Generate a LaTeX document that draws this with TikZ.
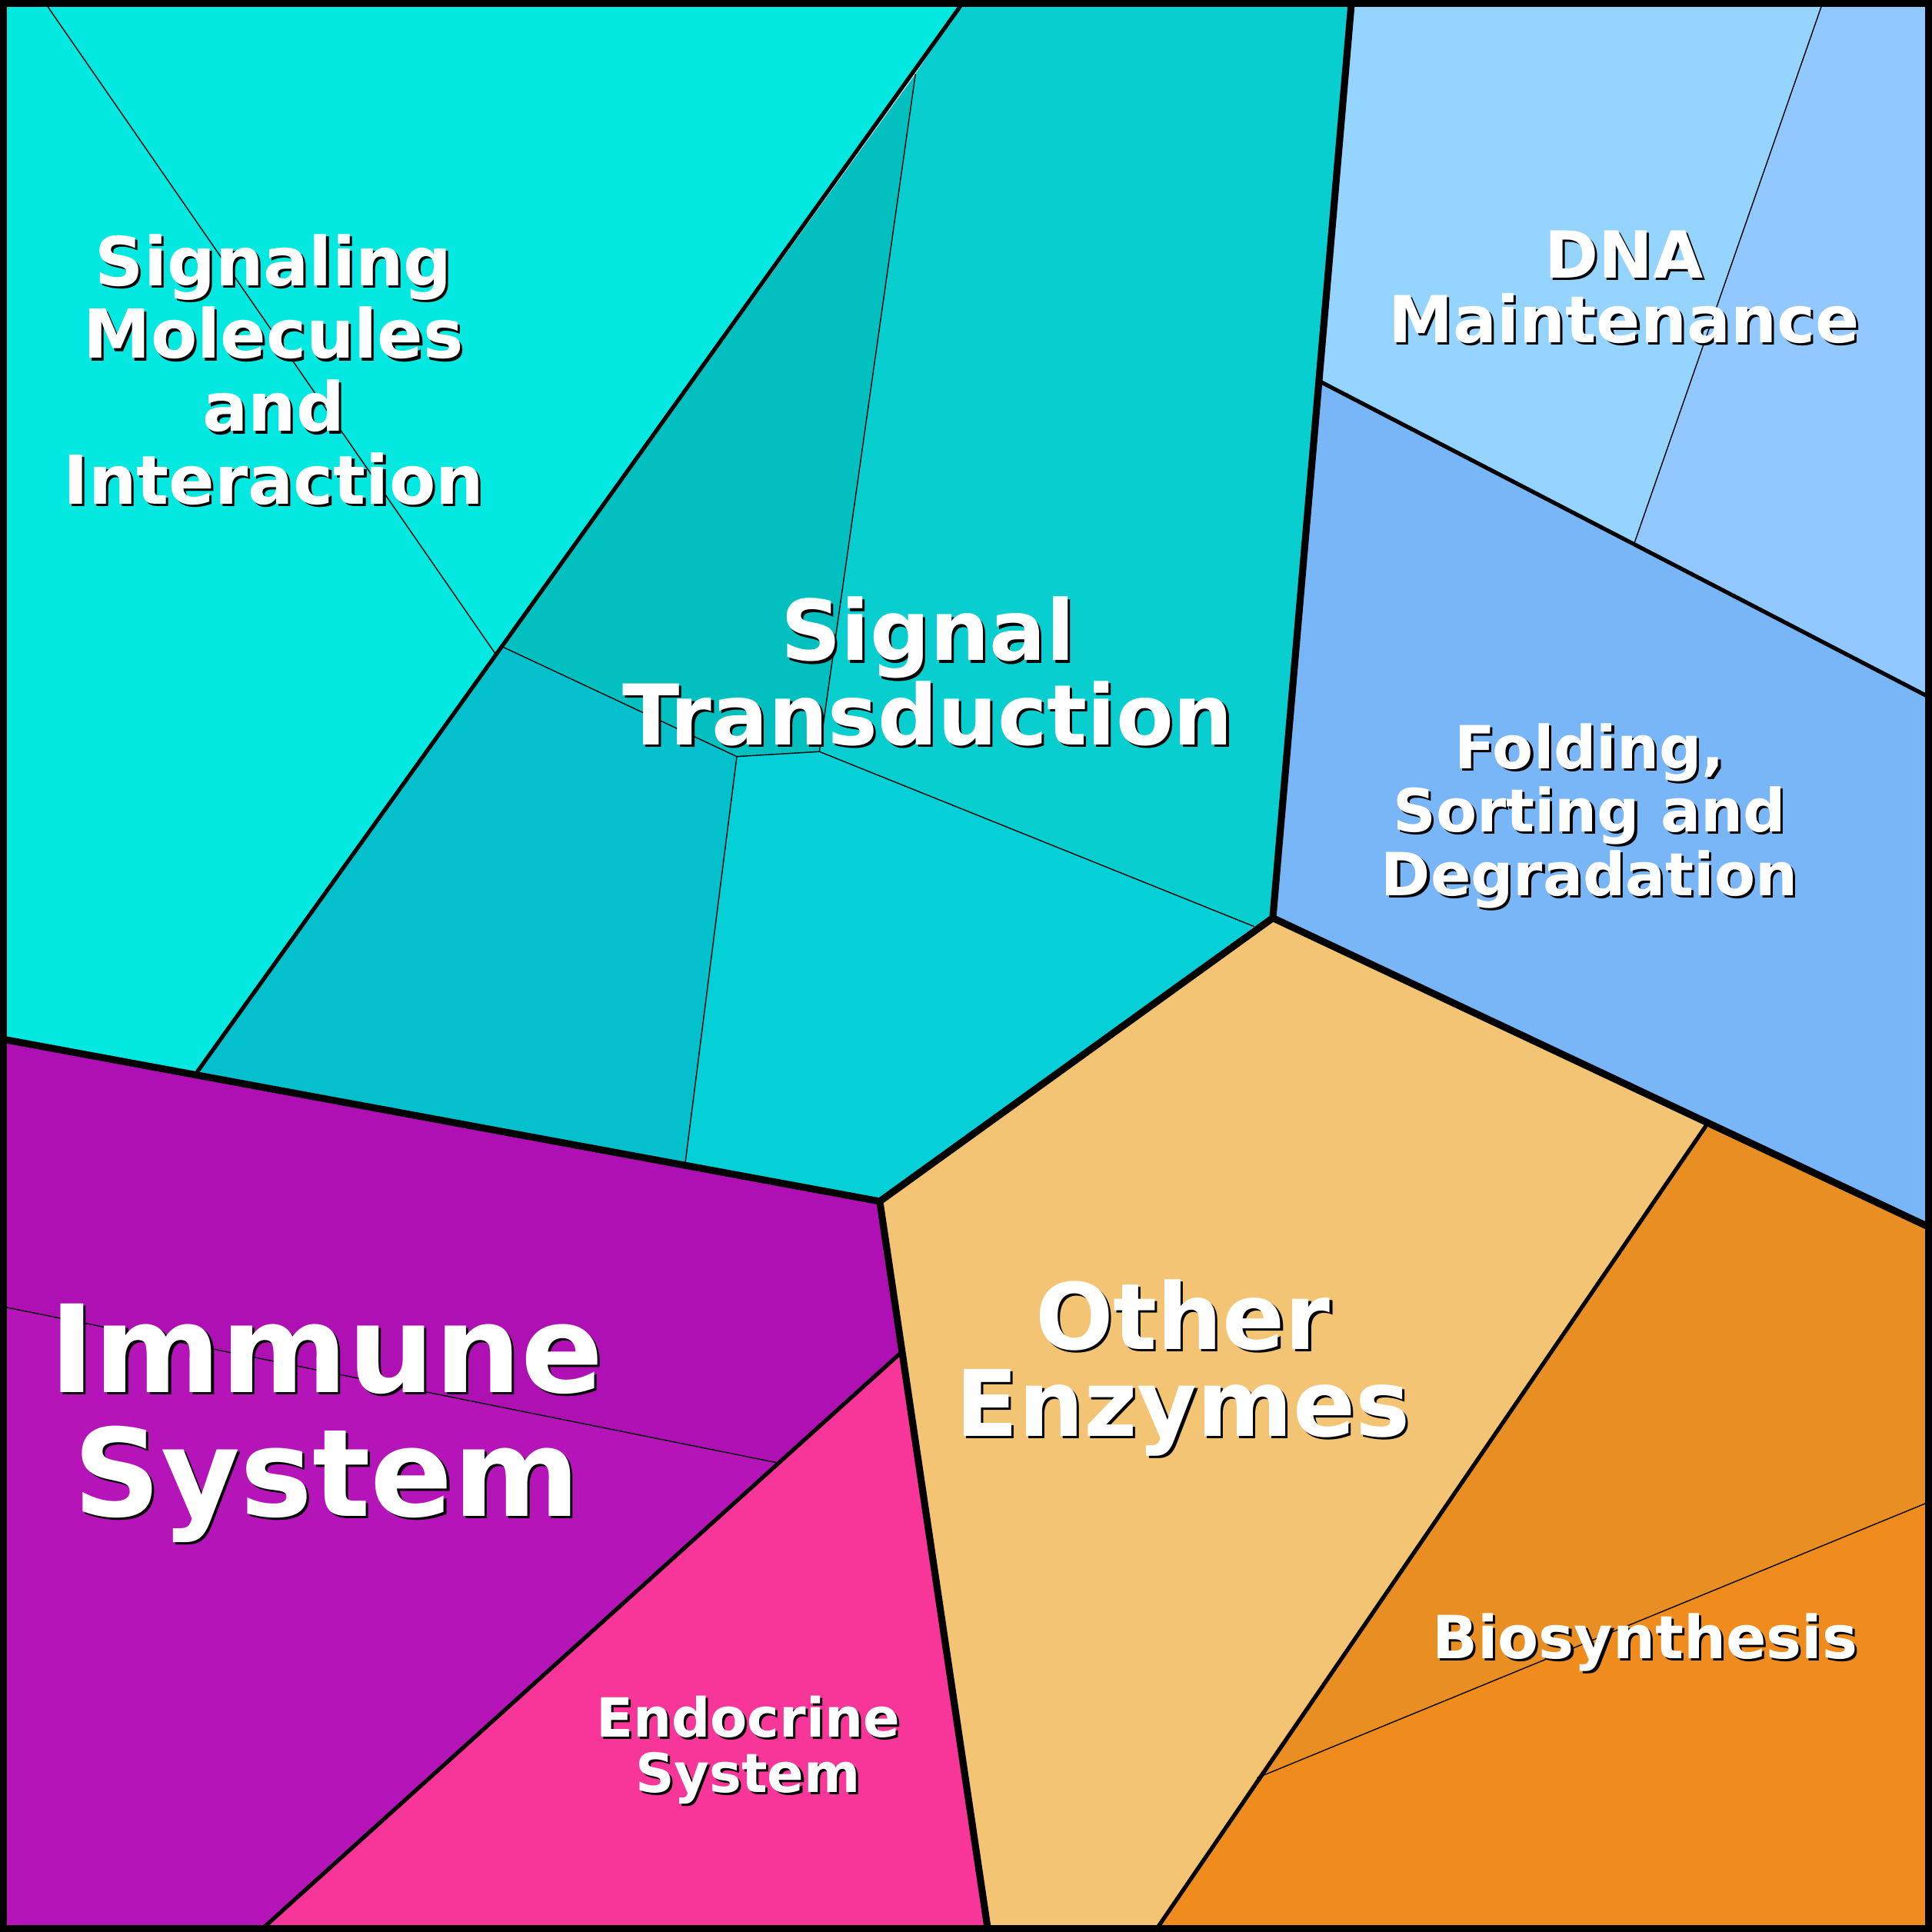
\documentclass[tikz,border=0pt]{standalone}
\usepackage{fontspec}
\setmainfont{DejaVu Sans}
\begin{document}
\begin{tikzpicture}[x=0.01602cm,y=-0.01602cm,
  thin/.style={draw=black,line width=0.4pt},
  med/.style={draw=black,line width=1.5pt},
  thk/.style={draw=black,line width=2.6pt},
  lbl/.style={align=center,text=white,font=\bfseries}]
\definecolor{cA}{HTML}{03E8E0}
\definecolor{cB}{HTML}{03C0C0}
\definecolor{cC}{HTML}{08CED0}
\definecolor{cD}{HTML}{03C0CC}
\definecolor{cE}{HTML}{05D0D8}
\definecolor{cF}{HTML}{94D4FF}
\definecolor{cG}{HTML}{90C8FF}
\definecolor{cH}{HTML}{78B6F8}
\definecolor{cI}{HTML}{F2C474}
\definecolor{cJ}{HTML}{E88E22}
\definecolor{cK}{HTML}{F08C1E}
\definecolor{cL}{HTML}{AE10B4}
\definecolor{cM}{HTML}{B414B8}
\definecolor{cN}{HTML}{F8369A}
\useasboundingbox (0,0) rectangle (1568,1568);
% fills
\fill[cA] (0,0)--(783,0)--(160,870)--(0,843)--cycle;
\fill[cB] (743,60)--(408,525)--(598,614)--(665,610)--cycle;
\fill[cC] (783,0)--(1097,0)--(1033,745)--(1018,752)--(665,610)--(743,60)--cycle;
\fill[cD] (408,525)--(160,870)--(556,945)--(598,614)--cycle;
\fill[cE] (598,614)--(556,945)--(714,975)--(1018,752)--(665,610)--cycle;
\fill[cF] (1097,0)--(1480,0)--(1326,442)--(1072,310)--cycle;
\fill[cG] (1480,0)--(1568,0)--(1568,567)--(1326,442)--cycle;
\fill[cH] (1072,310)--(1568,567)--(1568,997)--(1033,745)--cycle;
\fill[cI] (714,975)--(1033,745)--(1385,913)--(937,1568)--(802,1568)--cycle;
\fill[cJ] (1385,913)--(1568,997)--(1568,1218)--(1020,1443)--cycle;
\fill[cK] (1020,1443)--(1568,1218)--(1568,1568)--(937,1568)--cycle;
\fill[cL] (0,843)--(714,975)--(731,1098)--(630,1187)--(0,1060)--cycle;
\fill[cM] (0,1060)--(630,1187)--(210,1568)--(0,1568)--cycle;
\fill[cN] (731,1098)--(802,1568)--(210,1568)--cycle;
% thin lines
\draw[thin] (35,0)--(403,532);
\draw[thin] (743,60)--(665,610)--(598,614)--(408,525);
\draw[thin] (598,614)--(556,945);
\draw[thin] (665,610)--(1018,752);
\draw[thin] (1480,0)--(1326,442);
\draw[thin] (1020,1443)--(1568,1218);
\draw[thin] (0,1060)--(630,1187);
% medium
\draw[med] (783,0)--(160,870);
\draw[med] (731,1098)--(210,1568);
\draw[med] (1072,310)--(1568,567);
\draw[med] (1385,913)--(937,1568);
% thick
\draw[thk] (0,843)--(714,975)--(1033,745)--(1097,0);
\draw[thk] (1033,745)--(1568,997);
\draw[thk] (714,975)--(802,1568);
\draw[line width=5pt] (0,0) rectangle (1568,1568);
% labels
\newcommand{\lab}[5]{%
 \node[lbl,text=black,font=\bfseries\fontsize{#3}{#4}\selectfont] at ([shift={(2,2)}]#1) {#5};
 \node[lbl,font=\bfseries\fontsize{#3}{#4}\selectfont] (#2) at (#1) {#5};}
\lab{222,300}{sig}{25pt}{27pt}{Signaling\\Molecules\\and\\Interaction}
\lab{753,545}{st}{31pt}{29pt}{Signal\\Transduction}
\lab{1318,233}{dna}{24pt}{24pt}{DNA\\Maintenance}
\lab{1290,662}{fold}{22pt}{23.5pt}{Folding,\\Sorting and\\Degradation}
\lab{960,1110}{oe}{34pt}{32pt}{Other\\Enzymes}
\lab{265,1155}{imm}{45pt}{46pt}{Immune\\System}
\lab{607,1420}{endo}{20pt}{20.5pt}{Endocrine\\System}
\lab{1335,1333}{bio}{22pt}{24pt}{Biosynthesis}
\end{tikzpicture}
\end{document}
